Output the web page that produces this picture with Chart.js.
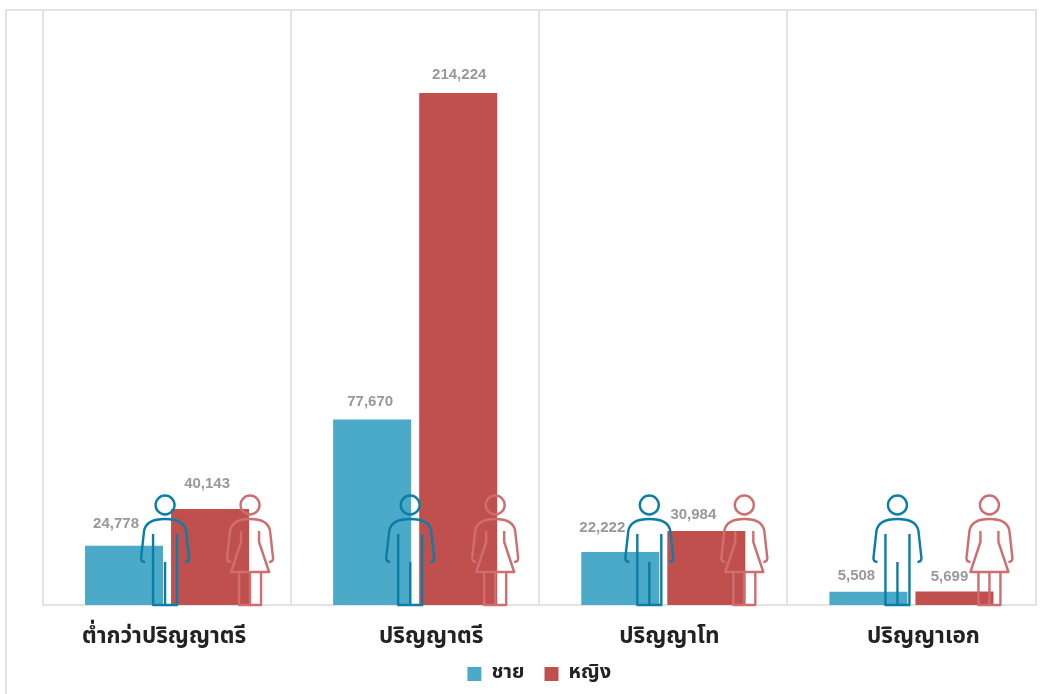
<!DOCTYPE html>
<html lang="th">
<head>
<meta charset="utf-8">
<title>ชาย หญิง ระดับการศึกษา</title>
<script src="https://cdn.jsdelivr.net/npm/chart.js@4/dist/chart.umd.min.js"></script>
<style>
html, body { margin: 0; padding: 0; background: #fff; overflow: hidden; }
#wrap { position: relative; width: 1045px; height: 694px; }
#frame { position: absolute; left: 5px; top: 9px; right: 8px; bottom: 0; border-left: 2px solid #e3e3e3; border-top: 2px solid #e3e3e3; }
canvas { position: absolute; left: 0; top: 0; }
</style>
</head>
<body>
<div id="wrap">
    <div id="frame"></div>
    <canvas id="chartEducation" width="1045" height="694"></canvas>
</div>
<script>
const categories = ['ต่ำกว่าปริญญาตรี', 'ปริญญาตรี', 'ปริญญาโท', 'ปริญญาเอก'];
const seriesNames = ['ชาย', 'หญิง'];
const maleValues = [24778, 77670, 22222, 5508];
const femaleValues = [40143, 214224, 30984, 5699];

// ขยับตำแหน่งป้ายตัวเลข [dx, dy] จากยอดแท่ง
const maleLabelShift = [[-8, -23], [-2, -19], [-18, -25], [-12, -17]];
const femaleLabelShift = [[-3, -26], [1, -19], [-13, -17], [-5, -16]];
// ขยับไอคอนคนจากกึ่งกลางกลุ่ม
const maleIconShift = [-2, -5, -14, -14];
const femaleIconShift = [83, 80, 81, 78];
// ชื่อหมวดไม่ได้อยู่กึ่งกลางพอดี
const categoryLabelShift = [-3, 16, 6, 12];

const BLUE = '#4aaac8';
const RED = '#c0504d';
const THAI_FONT = '"Noto Sans Thai", "Noto Sans", "Open Sans", sans-serif';

function poly(ctx, x, y, pts) {
    ctx.beginPath();
    pts.forEach((p, i) => {
        if (i === 0) ctx.moveTo(x + p[0], y - p[1]);
        else ctx.lineTo(x + p[0], y - p[1]);
    });
    ctx.stroke();
}

function drawShoulders(ctx, x, y, hand, armTop) {
    ctx.beginPath();
    ctx.moveTo(x - hand, y - 43);
    ctx.quadraticCurveTo(x - hand - 4, y - 43, x - hand - 4, y - 47);
    ctx.lineTo(x - armTop, y - 74);
    ctx.quadraticCurveTo(x - armTop + 2, y - 86, x, y - 86);
    ctx.quadraticCurveTo(x + armTop - 2, y - 86, x + armTop, y - 74);
    ctx.lineTo(x + hand + 4, y - 47);
    ctx.quadraticCurveTo(x + hand + 4, y - 43, x + hand, y - 43);
    ctx.stroke();
}

function drawHead(ctx, x, y) {
    ctx.beginPath();
    ctx.arc(x, y - 100, 9.5, 0, Math.PI * 2);
    ctx.stroke();
}

function drawMale(ctx, x, y) {
    ctx.strokeStyle = '#0a7ea8';
    drawHead(ctx, x, y);
    drawShoulders(ctx, x, y, 20, 21);
    poly(ctx, x, y, [[-12, 71], [-12, 0], [12, 0], [12, 71]]);
    poly(ctx, x, y, [[0, 43], [0, 0]]);
}

function drawFemale(ctx, x, y) {
    ctx.strokeStyle = '#cf6e6e';
    drawHead(ctx, x, y);
    drawShoulders(ctx, x, y, 19, 20);
    poly(ctx, x, y, [[-9, 74], [-9, 63], [-19, 33], [19, 33], [9, 63], [9, 74]]);
    poly(ctx, x, y, [[-11, 33], [-11, 0], [11, 0], [11, 33]]);
    poly(ctx, x, y, [[0, 33], [0, 0]]);
}

const peoplePlugin = {
    id: 'people',
    afterDatasetsDraw(chart) {
        const ctx = chart.ctx;
        const base = chart.scales.y.getPixelForValue(0);
        ctx.save();
        ctx.lineWidth = 2.4;
        ctx.lineJoin = 'round';
        categories.forEach((c, i) => {
            const cx = chart.scales.x.getPixelForValue(i);
            drawMale(ctx, cx + maleIconShift[i], base);
            drawFemale(ctx, cx + femaleIconShift[i], base);
        });
        ctx.restore();
    }
};

const valueLabelPlugin = {
    id: 'valueLabels',
    afterDatasetsDraw(chart) {
        const ctx = chart.ctx;
        const shifts = [maleLabelShift, femaleLabelShift];
        ctx.save();
        ctx.font = 'bold 15px "Liberation Sans", Arial, sans-serif';
        ctx.fillStyle = '#999999';
        ctx.textAlign = 'center';
        ctx.textBaseline = 'middle';
        chart.data.datasets.forEach((ds, d) => {
            chart.getDatasetMeta(d).data.forEach((bar, i) => {
                ctx.fillText(ds.data[i].toLocaleString('en-US'), bar.x + shifts[d][i][0], bar.y + shifts[d][i][1] + 1);
            });
        });
        ctx.restore();
    }
};

const categoryLabelPlugin = {
    id: 'categoryLabels',
    afterDraw(chart) {
        const ctx = chart.ctx;
        const base = chart.scales.y.getPixelForValue(0);
        ctx.save();
        ctx.font = 'bold 22.5px ' + THAI_FONT;
        ctx.fillStyle = '#222222';
        ctx.textAlign = 'center';
        ctx.textBaseline = 'middle';
        categories.forEach((c, i) => {
            ctx.fillText(c, chart.scales.x.getPixelForValue(i) + categoryLabelShift[i], base + 33);
        });
        ctx.restore();
    }
};

new Chart(document.getElementById('chartEducation'), {
    type: 'bar',
    data: {
        labels: categories,
        datasets: [
            { label: seriesNames[0], data: maleValues, backgroundColor: BLUE },
            { label: seriesNames[1], data: femaleValues, backgroundColor: RED }
        ]
    },
    options: {
        responsive: false,
        animation: false,
        layout: { padding: { left: 43, right: 9.5, top: 10, bottom: 0 } },
        datasets: { bar: { categoryPercentage: 0.6935, barPercentage: 0.907 } },
        scales: {
            x: {
                grid: { offset: true, color: '#e3e3e3', lineWidth: 2, drawTicks: false },
                border: { color: '#e3e3e3', width: 2 },
                ticks: { display: false },
                afterFit(scale) { scale.height = 39; }
            },
            y: {
                display: false,
                min: 0,
                max: 249000
            }
        },
        plugins: {
            tooltip: { enabled: false },
            legend: {
                position: 'bottom',
                labels: {
                    boxWidth: 14,
                    boxHeight: 14,
                    padding: 20,
                    color: '#222222',
                    font: { family: THAI_FONT, size: 20, weight: 'bold' }
                }
            }
        }
    },
    plugins: [peoplePlugin, valueLabelPlugin, categoryLabelPlugin]
});
</script>
</body>
</html>
